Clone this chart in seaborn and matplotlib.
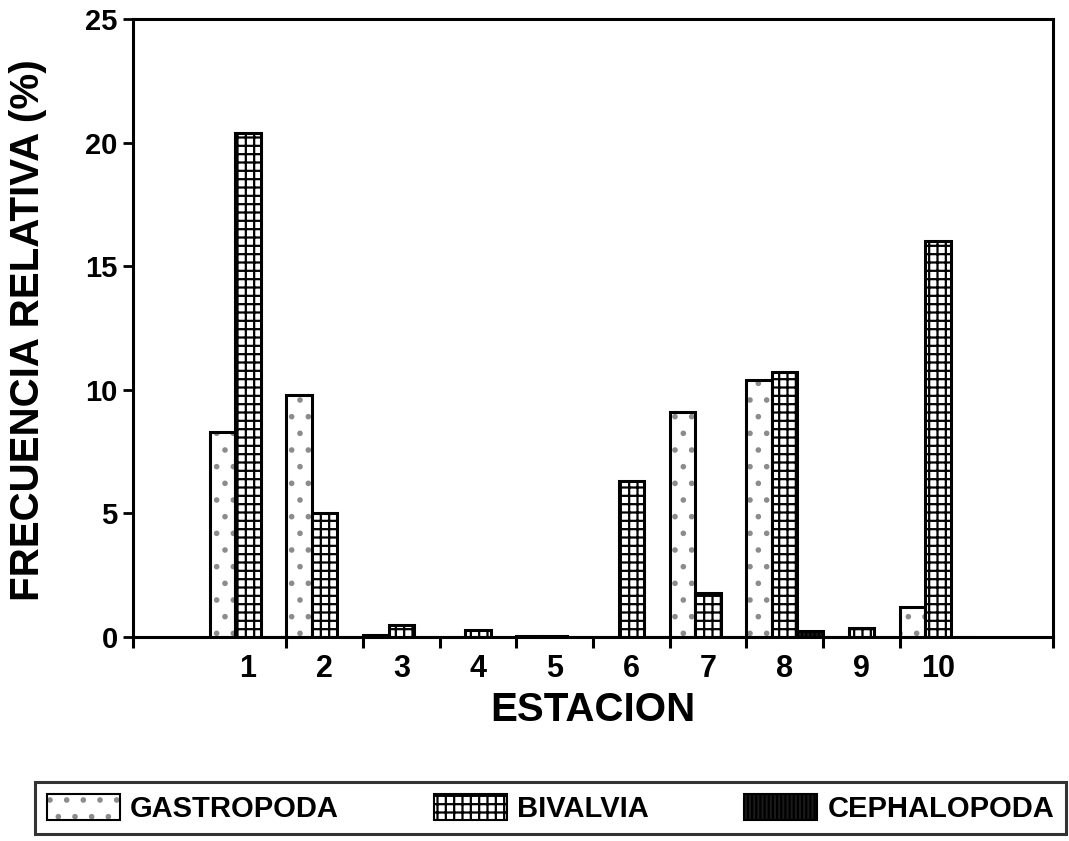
import numpy as np
import pandas as pd
import matplotlib
matplotlib.use('Agg')
import matplotlib.pyplot as plt
import seaborn as sns
from matplotlib.patches import Patch

# values (relative frequency, %)
stations = ['1', '2', '3', '4', '5', '6', '7', '8', '9', '10']
gastropoda = [8.3, 9.8, 0.1, 0.0, 0.03, 0.0, 9.1, 10.4, 0.0, 1.2]
bivalvia = [20.4, 5.0, 0.5, 0.3, 0.05, 6.3, 1.8, 10.7, 0.35, 16.0]
cephalopoda = [0.0, 0.0, 0.0, 0.0, 0.0, 0.0, 0.0, 0.25, 0.0, 0.0]
groups = ['GASTROPODA', 'BIVALVIA', 'CEPHALOPODA']
yticks = [0, 5, 10, 15, 20, 25]

df = pd.DataFrame({
    'estacion': stations * 3,
    'grupo': np.repeat(groups, len(stations)),
    'frecuencia': gastropoda + bivalvia + cephalopoda,
})

sns.set_style('ticks')
plt.rcParams['font.family'] = ['Liberation Sans', 'DejaVu Sans']
plt.rcParams['font.weight'] = 'bold'
plt.rcParams['hatch.linewidth'] = 1.6
for k in ['text.color', 'axes.labelcolor', 'xtick.color', 'ytick.color', 'axes.edgecolor']:
    plt.rcParams[k] = 'black'

fig = plt.figure(figsize=(10.69, 8.41), dpi=100)
ax = fig.add_axes([133 / 1069, 1 - 637 / 841, (1053 - 133) / 1069, (637 - 19) / 841])

faces = ['white', 'white', '#1a1a1a']
hatches = ['.', '++', '||||']
hatch_cols = [(0.55, 0.55, 0.55, 1), (0, 0, 0, 1), (0, 0, 0, 1)]
sns.barplot(data=df, x='estacion', y='frecuencia', hue='grupo', order=stations,
            hue_order=groups, palette=faces, saturation=1, width=1.0,
            edgecolor='black', linewidth=2.2, legend=False, ax=ax)

for cont, h, hc in zip(ax.containers, hatches, hatch_cols):
    for bar in cont:
        bar.set_hatch(h)
        bar._hatch_color = hc  # lighter stipple for the dotted bars

# axes frame and ticks
for sp in ax.spines.values():
    sp.set_visible(True)
    sp.set_linewidth(2.2)
    sp.set_color('black')

ax.set_xlim(-1.5, 10.5)
ax.set_ylim(0, 25)
ax.set_yticks(yticks)
ax.tick_params(axis='y', length=7, width=2, direction='out', pad=4, labelsize=21)

ax.set_xticks(range(len(stations)))
ax.set_xticklabels(stations)
ax.tick_params(axis='x', which='major', length=0, pad=12, labelsize=22)
bounds = [-1.5] + [i + 0.5 for i in range(9)] + [10.5]
ax.set_xticks(bounds, minor=True)
ax.tick_params(axis='x', which='minor', length=8, width=2.2, direction='out')

ax.set_xlabel('ESTACION', fontsize=29, fontweight='bold', labelpad=5)
ax.set_ylabel('FRECUENCIA RELATIVA (%)', fontsize=29, fontweight='bold')
ax.yaxis.set_label_coords(-0.093, 0.497)

handles = []
for f, h, hc in zip(faces, hatches, hatch_cols):
    p = Patch(facecolor=f, edgecolor='black', hatch=h, linewidth=1.5)
    p._hatch_color = hc
    handles.append(p)
leg = fig.legend(handles, groups, loc='upper left', ncol=3, mode='expand',
                 bbox_to_anchor=(35 / 1069, 1 - 782 / 841, 1031 / 1069, 0.0),
                 prop={'weight': 'bold', 'size': 21}, frameon=True, fancybox=False,
                 handlelength=2.5, handleheight=1.0, handletextpad=0.35,
                 borderpad=0.4, borderaxespad=0)
leg.get_frame().set_edgecolor('black')
leg.get_frame().set_linewidth(2.2)

fig.savefig('out.png', dpi=100)
